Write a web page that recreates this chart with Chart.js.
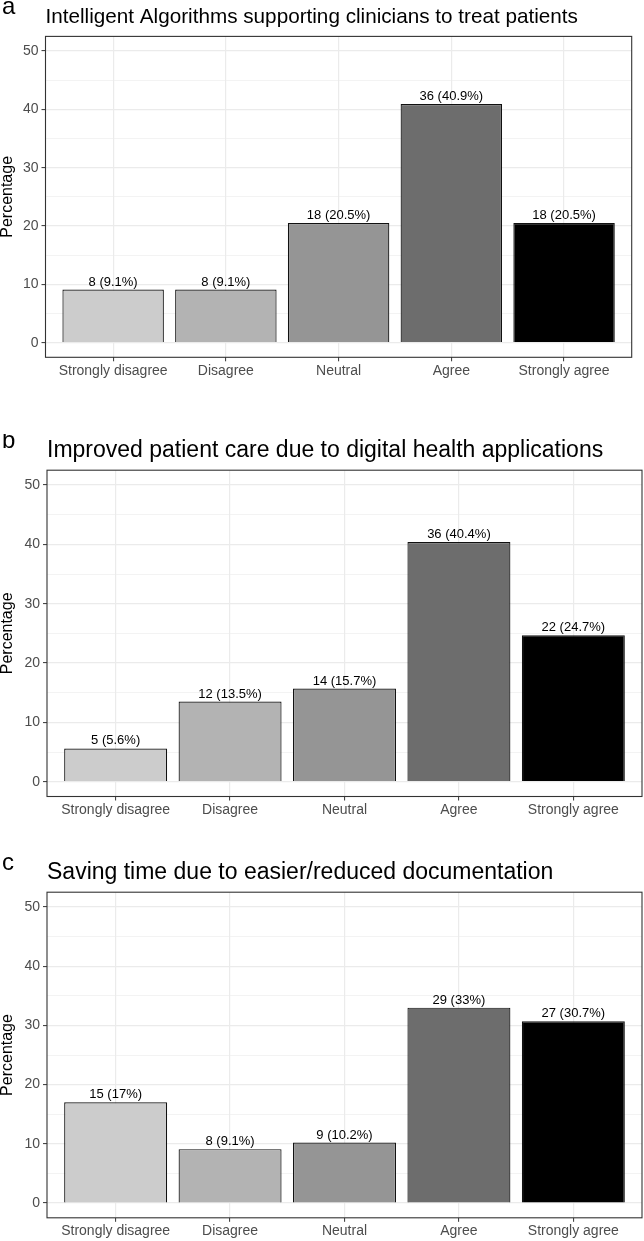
<!DOCTYPE html>
<html><head><meta charset="utf-8">
<script src="https://cdn.jsdelivr.net/npm/chart.js@4.4.1/dist/chart.umd.min.js"></script>
<style>
html,body{margin:0;padding:0;background:#fff;overflow:hidden;width:644px;height:1241px;position:relative}
canvas{position:absolute;left:0}
</style></head><body>
<canvas id="ca"></canvas><canvas id="cb"></canvas><canvas id="cc"></canvas>
<script>
const categories = ['Strongly disagree','Disagree','Neutral','Agree','Strongly agree'];
const yTicks = [0,10,20,30,40,50];
const yMinorTicks = [5,15,25,35,45];
const titleA = 'Intelligent Algorithms supporting clinicians to treat patients';
const countsA = [8,8,18,36,18];
const pctA = [9.1,9.1,20.5,40.9,20.5];
const titleB = 'Improved patient care due to digital health applications';
const countsB = [5,12,14,36,22];
const pctB = [5.6,13.5,15.7,40.4,24.7];
const titleC = 'Saving time due to easier/reduced documentation';
const countsC = [15,8,9,29,27];
const pctC = [17,9.1,10.2,33,30.7];
const fills = ['#CCCCCC','#B3B3B3','#959595','#6D6D6D','#000000'];

const FONT = "'Liberation Sans', Arial, Helvetica, sans-serif";

const panelDeco = {
  id: 'panelDeco',
  afterDatasetsDraw(chart, args, opts) {
    const ctx = chart.ctx;
    const meta = chart.getDatasetMeta(0);
    ctx.save();
    ctx.font = '13px ' + FONT;
    ctx.fillStyle = '#000';
    ctx.textAlign = 'center';
    ctx.textBaseline = 'alphabetic';
    meta.data.forEach((el, i) => {
      ctx.fillText(opts.labels[i], el.x, el.y - 4);
    });
    ctx.restore();
  },
  afterDraw(chart, args, opts) {
    const ctx = chart.ctx;
    const a = chart.chartArea;
    ctx.save();
    ctx.strokeStyle = '#333333';
    ctx.lineWidth = 1.1;
    ctx.strokeRect(a.left, a.top, a.right - a.left, a.bottom - a.top);
    ctx.fillStyle = '#000';
    ctx.textAlign = 'left';
    ctx.textBaseline = 'alphabetic';
    ctx.font = '24px ' + FONT;
    ctx.fillText(opts.letter, 2, a.top - 22);
    ctx.font = opts.titleSize + 'px ' + FONT;
    ctx.fillText(opts.title, a.left, a.top - 13.3);
    ctx.restore();
  }
};

function makeChart(id, top, height, padTop, padBottom, yWidth, padRight, title, titleSize, letter, counts, pct) {
  const cv = document.getElementById(id);
  cv.width = 644; cv.height = height;
  cv.style.top = top + 'px';
  cv.style.width = '644px'; cv.style.height = height + 'px';
  const allY = yTicks.concat(yMinorTicks).sort((p, q) => p - q);
  new Chart(cv, {
    type: 'bar',
    data: {
      datasets: [{
        data: pct.map((v, i) => ({x: i, y: v})),
        backgroundColor: fills,
        borderColor: '#111111',
        borderWidth: 1.2,
        barPercentage: 0.9,
        categoryPercentage: 1
      }]
    },
    options: {
      responsive: false,
      animation: false,
      devicePixelRatio: 1,
      layout: {padding: {top: padTop, bottom: padBottom, left: 0, right: padRight}},
      plugins: {
        legend: {display: false},
        tooltip: {enabled: false},
        panelDeco: {title: title, titleSize: titleSize, letter: letter, labels: counts.map((c, i) => c + ' (' + pct[i] + '%)')}
      },
      scales: {
        x: {
          type: 'linear', min: -0.6, max: 4.6, offset: false,
          afterBuildTicks: s => { s.ticks = categories.map((c, i) => ({value: i})); },
          afterFit: s => { s.height = 22; },
          ticks: {
            callback: v => (categories[v] !== undefined ? categories[v] : ''),
            autoSkip: false, maxRotation: 0, minRotation: 0,
            color: '#4d4d4d', font: {family: FONT, size: 14}, padding: 1
          },
          grid: {color: '#ebebeb', lineWidth: 1.2, tickColor: '#333333', tickLength: 4, tickWidth: 1, offset: false},
          border: {display: false}
        },
        y: {
          min: -2.5, max: 52.5,
          afterBuildTicks: s => { s.ticks = allY.map(v => ({value: v})); },
          afterFit: s => { s.width = yWidth; },
          ticks: {
            callback: v => (yTicks.includes(v) ? String(v) : ''),
            color: '#4d4d4d', font: {family: FONT, size: 14}, padding: 3
          },
          grid: {
            color: '#ebebeb',
            lineWidth: c => (c.tick && yTicks.includes(c.tick.value) ? 1.2 : 0.6),
            tickColor: c => (c.tick && yTicks.includes(c.tick.value) ? '#333333' : 'rgba(0,0,0,0)'),
            tickLength: 4, tickWidth: 1
          },
          border: {display: false},
          title: {display: true, text: 'Percentage', color: '#000', font: {family: FONT, size: 16, lineHeight: 1}, padding: {top: 0, bottom: 0}}
        }
      }
    },
    plugins: [panelDeco]
  });
}

makeChart('ca', 0, 381, 36.4, 1.7, 45.5, 12.3, titleA, 20.7, 'a', countsA, pctA);
makeChart('cb', 434, 386, 36.2, 1.5, 47, 2, titleB, 23, 'b', countsB, pctB);
makeChart('cc', 856, 385, 36.2, 1.2, 47, 2, titleC, 23, 'c', countsC, pctC);
</script>
</body></html>
